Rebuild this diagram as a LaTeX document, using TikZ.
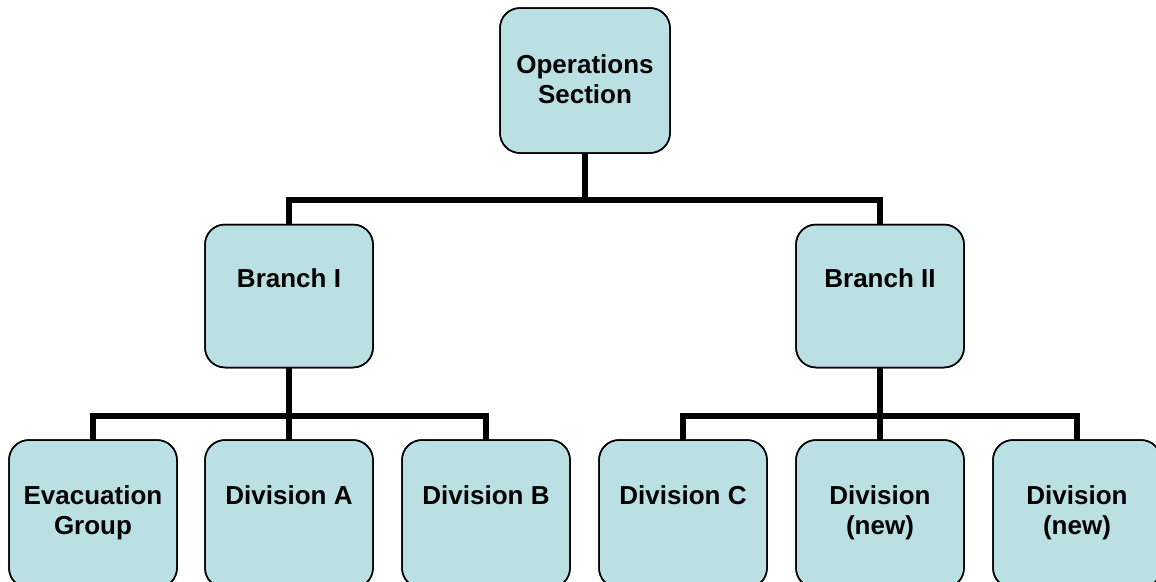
\documentclass[tikz,border=0pt]{standalone}
\usepackage{fontspec}
\setmainfont{Liberation Sans}
\definecolor{boxfill}{RGB}{187,224,227}
\begin{document}
\begin{tikzpicture}[x=1pt,y=-1pt,
  orgbox/.style={draw=black,line width=1.5pt,fill=boxfill,rounded corners=20pt,
    minimum width=168pt,minimum height=143pt,inner sep=0pt,outer sep=0pt},
  boxtext/.style={font=\fontsize{26pt}{30pt}\selectfont\bfseries,align=center,anchor=north,inner sep=0pt},
  link/.style={line width=6pt,line cap=rect}]
\useasboundingbox (0,0) rectangle (1156,581);
% boxes
\node[orgbox,minimum width=170pt,minimum height=145pt] (ops) at (585,80.5) {};
\node[orgbox] (b1) at (289,296) {};
\node[orgbox] (b2) at (880,296) {};
\node[orgbox,minimum height=148pt] (evac) at (93,514) {};
\node[orgbox,minimum height=148pt] (da) at (289,514) {};
\node[orgbox,minimum height=148pt] (db) at (486,514) {};
\node[orgbox,minimum height=148pt] (dc) at (683,514) {};
\node[orgbox,minimum height=148pt] (dn1) at (880,514) {};
\node[orgbox,minimum height=148pt] (dn2) at (1077,514) {};
% texts
\node[boxtext] (tops) at ([yshift=-46pt]ops.north) {Operations\\Section};
\node[boxtext] (tb1) at ([yshift=-44pt]b1.north) {Branch I};
\node[boxtext] (tb2) at ([yshift=-44pt]b2.north) {Branch II};
\node[boxtext] (tevac) at ([yshift=-45pt]evac.north) {Evacuation\\Group};
\node[boxtext] (tda) at ([yshift=-45pt]da.north) {Division A};
\node[boxtext] (tdb) at ([yshift=-45pt]db.north) {Division B};
\node[boxtext] (tdc) at ([yshift=-45pt]dc.north) {Division C};
\node[boxtext] (tdn1) at ([yshift=-45pt]dn1.north) {Division\\(new)};
\node[boxtext] (tdn2) at ([yshift=-45pt]dn2.north) {Division\\(new)};
% connectors
\coordinate (j0) at (585,200);
\coordinate (j1) at (289,416);
\coordinate (j2) at (880,416);
\draw[link,line cap=butt] (ops.south) -- (j0);
\draw[link,line cap=butt] (b1.north) |- (j0) -| (b2.north);
\draw[link,line cap=butt] (b1.south) -- (j1);
\draw[link,line cap=butt] (evac.north) |- (j1) -| (db.north);
\draw[link,line cap=butt] (da.north) -- (j1);
\draw[link,line cap=butt] (b2.south) -- (j2);
\draw[link,line cap=butt] (dc.north) |- (j2) -| (dn2.north);
\draw[link,line cap=butt] (dn1.north) -- (j2);
% redraw borders on top of connectors
\foreach \n in {ops,b1,b2,evac,da,db,dc,dn1,dn2}
  \draw[black,line width=1.5pt,rounded corners=20pt] (\n.south west) rectangle (\n.north east);
\end{tikzpicture}
\end{document}
